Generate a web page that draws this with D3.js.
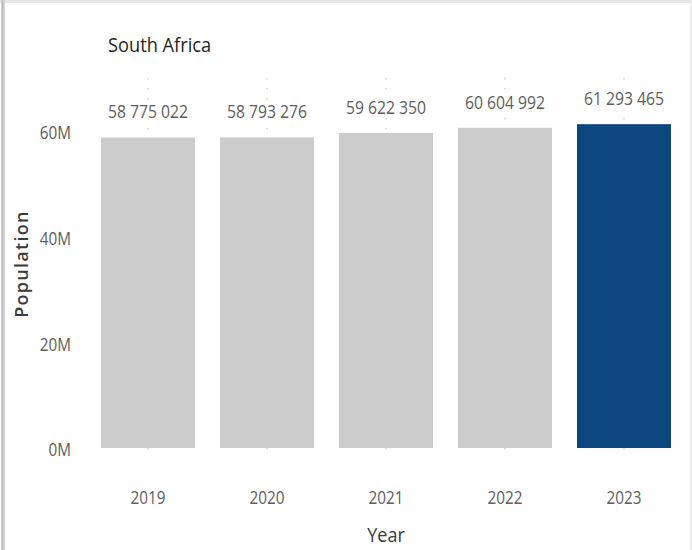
<!DOCTYPE html>
<html>
<head>
<meta charset="utf-8">
<script src="https://cdn.jsdelivr.net/npm/d3@7"></script>
<style>
  html, body { margin: 0; padding: 0; background: #fff; }
  svg { display: block; }
  text { font-family: "Open Sans", "DejaVu Sans", sans-serif; }
</style>
</head>
<body>
<script>
// Population of South Africa by year
const years = ["2019", "2020", "2021", "2022", "2023"];
const population = [58775022, 58793276, 59622350, 60604992, 61293465];
const yTicks = [0, 20e6, 40e6, 60e6];
const highlightYear = "2023";

const W = 692, H = 550;
const NARROW = 0.85; // horizontal squeeze for a condensed look
const svg = d3.select("body").append("svg").attr("width", W).attr("height", H);

// card frame
svg.append("rect").attr("x", 0).attr("y", 0).attr("width", W).attr("height", 3).attr("fill", "#e6e6e6");
svg.append("rect").attr("x", 1).attr("y", 0).attr("width", 4).attr("height", H).attr("fill", "#d2d2d2");
svg.append("rect").attr("x", 2).attr("y", 0).attr("width", 1).attr("height", H).attr("fill", "#b8b8b8");
svg.append("rect").attr("x", W - 2).attr("y", 0).attr("width", 2).attr("height", H).attr("fill", "#ececec");

const x = d3.scaleBand().domain(years).range([88.5, 683.5]).paddingInner(0.21).paddingOuter(0.105);
const y = d3.scaleLinear().domain([0, 60e6]).range([448, 131]);

const data = years.map((yr, i) => ({ year: yr, value: population[i] }));

// title
svg.append("text").attr("transform", "translate(108,52) scale(0.89,1)")
  .attr("font-size", 20.5).attr("fill", "#252423").text("South Africa");

// y axis labels
const yAxis = d3.axisLeft(y).tickValues(yTicks).tickFormat(d => d3.format("d")(d / 1e6) + "M").tickSize(0).tickPadding(0);
const ya = svg.append("g").attr("transform", "translate(71,2)").call(yAxis);
ya.select(".domain").remove();
ya.selectAll("text").attr("font-size", 18).attr("fill", "#605e5c")
  .attr("transform", `scale(${NARROW},1)`)
  .style("font-family", "'Open Sans', sans-serif");

// x axis labels
const xAxis = d3.axisBottom(x).tickSize(0).tickPadding(0);
const xa = svg.append("g").attr("transform", "translate(0,491)").call(xAxis);
xa.select(".domain").remove();
xa.selectAll("text").attr("font-size", 18).attr("fill", "#605e5c")
  .attr("transform", `scale(${NARROW},1)`)
  .style("font-family", "'Open Sans', sans-serif");

// axis titles
svg.append("text").attr("transform", "translate(386,542) scale(0.9,1)").attr("text-anchor", "middle")
  .attr("font-size", 20).attr("fill", "#3a3a3a").text("Year");
svg.append("text").attr("transform", "translate(28,264) rotate(-90)").attr("text-anchor", "middle")
  .attr("font-size", 18).attr("font-weight", "600").attr("letter-spacing", 1.3).attr("fill", "#3a3a3a")
  .style("font-family", "'Open Sans', sans-serif").text("Population");

// dotted category guides
svg.append("g").selectAll("line").data(data).join("line")
  .attr("x1", d => x(d.year) + x.bandwidth() / 2)
  .attr("x2", d => x(d.year) + x.bandwidth() / 2)
  .attr("y1", 78).attr("y2", 454)
  .attr("stroke", "#d4d4d4").attr("stroke-width", 1.5).attr("stroke-dasharray", "1.5,8.5");

// bars
svg.append("g").selectAll("rect").data(data).join("rect")
  .attr("x", d => x(d.year))
  .attr("y", d => y(d.value))
  .attr("width", x.bandwidth())
  .attr("height", d => y(0) - y(d.value))
  .attr("fill", d => d.year === highlightYear ? "#0b467e" : "#cccccc");

// data labels
const fmt = v => d3.format(",")(v).replace(/,/g, " ");
const lbl = svg.append("g").selectAll("g").data(data).join("g")
  .attr("transform", d => `translate(${x(d.year) + x.bandwidth() / 2},${y(d.value) - 19})`);
lbl.append("rect").attr("x", -44).attr("y", -17).attr("width", 88).attr("height", 21).attr("fill", "#fff");
lbl.append("text").attr("text-anchor", "middle").attr("font-size", 19).attr("fill", "#605e5c")
  .attr("transform", "scale(0.83,1)")
  .text(d => fmt(d.value));
</script>
</body>
</html>
